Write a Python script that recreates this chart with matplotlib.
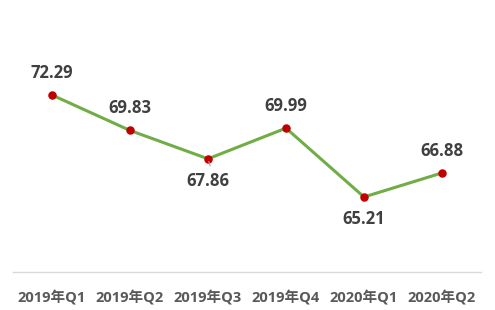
import matplotlib
matplotlib.use('Agg')
import matplotlib.pyplot as plt

plt.rcParams['font.family'] = ['Open Sans', 'Noto Sans CJK SC', 'DejaVu Sans']

quarters = ['2019年Q1', '2019年Q2', '2019年Q3', '2019年Q4', '2020年Q1', '2020年Q2']
values = [72.29, 69.83, 67.86, 69.99, 65.21, 66.88]
# label above (+) or below (-) the point
label_pos = [1, 1, -1, 1, -1, 1]

fig = plt.figure(figsize=(4.95, 3.1), dpi=100)
ax = fig.add_axes([13/495, 1 - 272/310, 468/495, (272 - 56)/310])

x = list(range(len(values)))
ax.plot(x, values, color='#70AD47', lw=2.2, zorder=2)
ax.scatter(x, values, s=26, color='#C00000', zorder=3)

for xi, v, p in zip(x, values, label_pos):
    off = 22 if p > 0 else -22
    ax.annotate(f'{v:.2f}', (xi, v), xytext=(0, off), textcoords='offset pixels',
                ha='center', va='center', fontsize=12, fontweight='bold', color='#404040')

# small leader line under the 67.86 point
ax.annotate('', (2, values[2]), xytext=(3, -10), textcoords='offset pixels',
            arrowprops=dict(arrowstyle='-', color='#A6A6A6', lw=0.8))

ax.set_xlim(-0.5, len(values) - 0.5)
ax.set_ylim(60, 75)
ax.set_xticks(x)
ax.set_xticklabels(quarters, fontsize=10.5, fontweight='bold', color='#595959')
ax.tick_params(axis='x', length=0, pad=13)
ax.set_yticks([])
for s in ['top', 'right', 'left']:
    ax.spines[s].set_visible(False)
ax.spines['bottom'].set_color('#D9D9D9')
ax.spines['bottom'].set_linewidth(1)

fig.savefig('out.png', dpi=100)
